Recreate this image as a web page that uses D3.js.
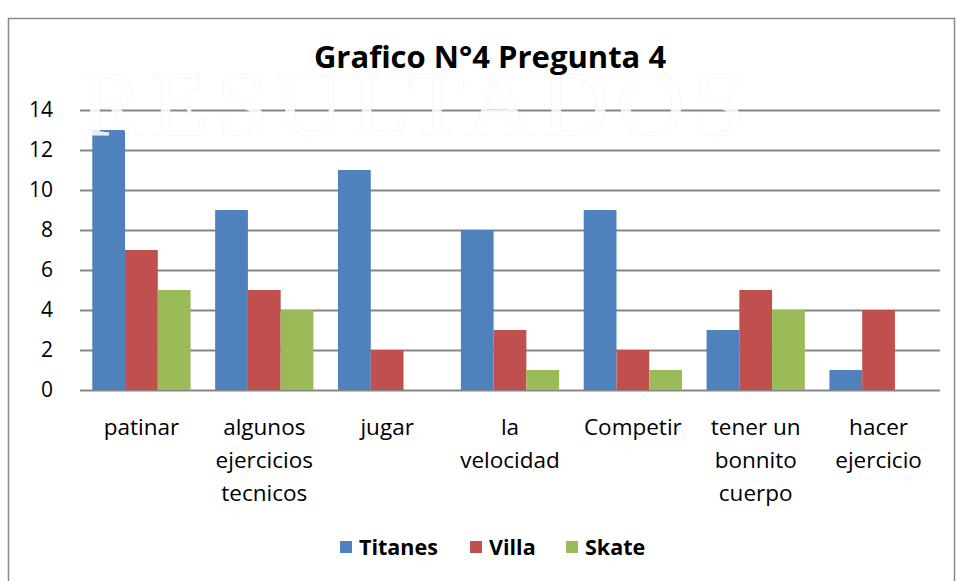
<!DOCTYPE html>
<html><head><meta charset="utf-8">
<script src="https://cdn.jsdelivr.net/npm/d3@7"></script>
<style>body{margin:0;background:#fff}</style>
</head><body>
<svg id="c" width="956" height="581"></svg>
<script>
const categories = [["patinar"],["algunos","ejercicios","tecnicos"],["jugar"],["la","velocidad"],["Competir"],["tener un","bonnito","cuerpo"],["hacer","ejercicio"]];
const seriesNames = ["Titanes","Villa","Skate"];
const titanes = [13, 9, 11, 8, 9, 3, 1];
const villa = [7, 5, 2, 3, 2, 5, 4];
const skate = [5, 4, 0, 1, 1, 4, 0];
const yTicks = [0,2,4,6,8,10,12,14];
const colors = ["#4F81BD","#C0504D","#9BBB59"];
const series = [titanes, villa, skate];

const svg = d3.select("#c");
const font = "'Open Sans', sans-serif";
svg.append("rect").attr("x",8.5).attr("y",18.5).attr("width",946).attr("height",570).attr("fill","#fff").attr("stroke","#888").attr("stroke-width",1.5);

const L=80,R=940,T=110,B=390;
const x0 = d3.scaleBand().domain(d3.range(categories.length)).range([L,R]).paddingInner(0.2).paddingOuter(0.1);
const x1 = d3.scaleBand().domain(d3.range(3)).range([0,x0.bandwidth()]);
const y = d3.scaleLinear().domain([0,14]).range([B,T]);

const gy = svg.append("g").attr("transform",`translate(${L},0)`)
  .call(d3.axisLeft(y).tickValues(yTicks).tickSize(-(R-L)).tickPadding(27).tickFormat(d3.format("d")));
gy.select(".domain").remove();
gy.selectAll(".tick line").attr("stroke","#868686").attr("stroke-width",2);
gy.selectAll(".tick text").attr("font-family",font).attr("font-size",21).attr("fill","#000");

const g = svg.append("g");
series.forEach((s,si)=>{
  g.selectAll(null).data(s).enter().append("rect")
   .attr("x",(d,i)=>x0(i)+x1(si)).attr("width",x1.bandwidth())
   .attr("y",d=>y(d)).attr("height",d=>y(0)-y(d)).attr("fill",colors[si]);
});

// faint watermark
svg.append("text").attr("x",80).attr("y",135).attr("textLength",665).attr("lengthAdjust","spacing")
  .attr("font-family","'Liberation Serif', serif").attr("font-size",94)
  .attr("fill","#fff").attr("fill-opacity",0.85).attr("stroke","#f4f4f4").attr("stroke-width",0.6).text("RESULTADOS");

const cl = svg.append("g");
categories.forEach((lines,i)=>{
  const t = cl.append("text").attr("x",x0(i)+x0.bandwidth()/2).attr("y",435)
    .attr("text-anchor","middle").attr("font-family",font).attr("font-size",22.5).attr("fill","#000");
  lines.forEach((ln,j)=>t.append("tspan").attr("x",x0(i)+x0.bandwidth()/2).attr("dy",j?33:0).text(ln));
});

svg.append("text").attr("x",490).attr("y",68).attr("text-anchor","middle")
  .attr("font-family",font).attr("font-weight","bold").attr("font-size",31).attr("fill","#000")
  .text("Grafico N°4 Pregunta 4");

const legX = [340,470,566];
seriesNames.forEach((n,i)=>{
  svg.append("rect").attr("x",legX[i]).attr("y",541).attr("width",12).attr("height",12).attr("fill",colors[i]);
  svg.append("text").attr("x",legX[i]+19).attr("y",555).attr("font-family",font).attr("font-weight","bold")
    .attr("font-size",21.5).attr("fill","#000").text(n);
});
</script>
</body></html>
